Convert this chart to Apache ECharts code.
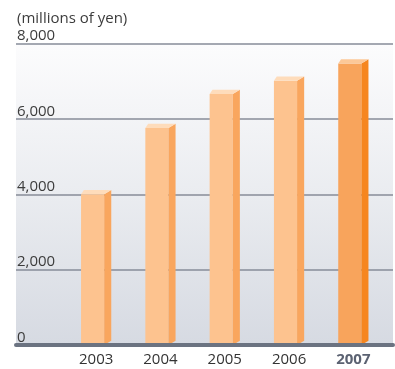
<!DOCTYPE html>
<html>
<head>
<meta charset="utf-8">
<script src="https://cdn.jsdelivr.net/npm/echarts@6/dist/echarts.min.js"></script>
<style>
  html, body { margin: 0; padding: 0; background: #ffffff; }
  #chart { width: 395px; height: 369px; }
</style>
</head>
<body>
<div id="chart"></div>
<script>
// Net sales by fiscal year
const years = ['2003', '2004', '2005', '2006', '2007'];
const sales = [4000, 5760, 6660, 7010, 7470];
const yTicks = [0, 2000, 4000, 6000, 8000];
const unitLabel = '(millions of yen)';

const FONT = '"Open Sans", "Noto Sans", sans-serif';
const latest = years.length - 1;

// face colours: front, side, top
const normalFaces = { front: '#fdc38f', side: '#f9a65e', top: '#fedcbb' };
const latestFaces = { front: '#f8a45c', side: '#f6861f', top: '#fcc898' };

function renderBox(params, api) {
  const idx = api.value(0);
  const val = api.value(1);
  const topPt = api.coord([idx, val]);
  const basePt = api.coord([idx, 0]);
  const band = api.size([1, 0])[0];
  const frontW = band * 0.36;
  const sideW = band * 0.11;
  const depth = sideW * 0.6;
  const x0 = topPt[0] - (frontW + sideW) / 2;
  const x1 = x0 + frontW;
  const x2 = x1 + sideW;
  const yT = topPt[1];
  const yB = basePt[1];
  const c = idx === latest ? latestFaces : normalFaces;
  return {
    type: 'group',
    children: [
      { type: 'polygon', shape: { points: [[x0, yT], [x1, yT], [x1, yB], [x0, yB]] },
        style: { fill: c.front } },
      { type: 'polygon', shape: { points: [[x1, yT], [x2, yT - depth], [x2, yB - depth], [x1, yB]] },
        style: { fill: c.side } },
      { type: 'polygon', shape: { points: [[x0, yT], [x1, yT], [x2, yT - depth], [x0 + sideW * 0.4, yT - depth]] },
        style: { fill: c.top } }
    ]
  };
}

const chart = echarts.init(document.getElementById('chart'));
chart.setOption({
  animation: false,
  title: {
    text: unitLabel,
    left: 17,
    top: 11,
    padding: 0,
    textStyle: { fontFamily: FONT, fontSize: 15, fontWeight: 'normal', color: '#3c3c3c' }
  },
  grid: [
    {
      left: 16, right: 2, top: 43.5, bottom: 24,
      show: true, borderWidth: 0,
      backgroundColor: {
        type: 'linear', x: 0, y: 0, x2: 0, y2: 1,
        colorStops: [
          { offset: 0, color: '#fcfcfd' },
          { offset: 0.5, color: '#eaecf0' },
          { offset: 1, color: '#d6dae2' }
        ]
      }
    },
    { left: 64, right: 9.5, top: 43.5, bottom: 24 }
  ],
  xAxis: [
    {
      gridIndex: 0, type: 'value', min: 0, max: 1, z: 10,
      axisLine: { show: true, lineStyle: { color: '#6b7381', width: 4 } },
      axisTick: { show: false }, axisLabel: { show: false }, splitLine: { show: false }
    },
    {
      gridIndex: 1, type: 'category', data: years,
      axisLine: { show: false }, axisTick: { show: false },
      axisLabel: {
        interval: 0,
        margin: 7,
        fontFamily: FONT, fontSize: 15, color: '#333333',
        formatter: (v, i) => (i === latest ? '{hi|' + v + '}' : v),
        rich: { hi: { fontFamily: FONT, fontSize: 15, fontWeight: 'bold', color: '#5b6272' } }
      }
    }
  ],
  yAxis: [
    {
      gridIndex: 0, type: 'value',
      min: yTicks[0], max: yTicks[yTicks.length - 1], interval: yTicks[1] - yTicks[0],
      axisLine: { show: false }, axisTick: { show: false },
      splitLine: { lineStyle: { color: '#878d98', width: 1.5 } },
      axisLabel: {
        inside: true, margin: 1, verticalAlign: 'bottom',
        fontFamily: FONT, fontSize: 15, color: '#3c3c3c',
        formatter: v => v.toLocaleString('en-US')
      }
    },
    {
      gridIndex: 1, type: 'value', show: false,
      min: yTicks[0], max: yTicks[yTicks.length - 1]
    }
  ],
  series: [
    {
      type: 'custom',
      xAxisIndex: 1, yAxisIndex: 1,
      z: 3,
      renderItem: renderBox,
      encode: { x: 0, y: 1 },
      data: sales.map((v, i) => [i, v])
    }
  ]
});
</script>
</body>
</html>
